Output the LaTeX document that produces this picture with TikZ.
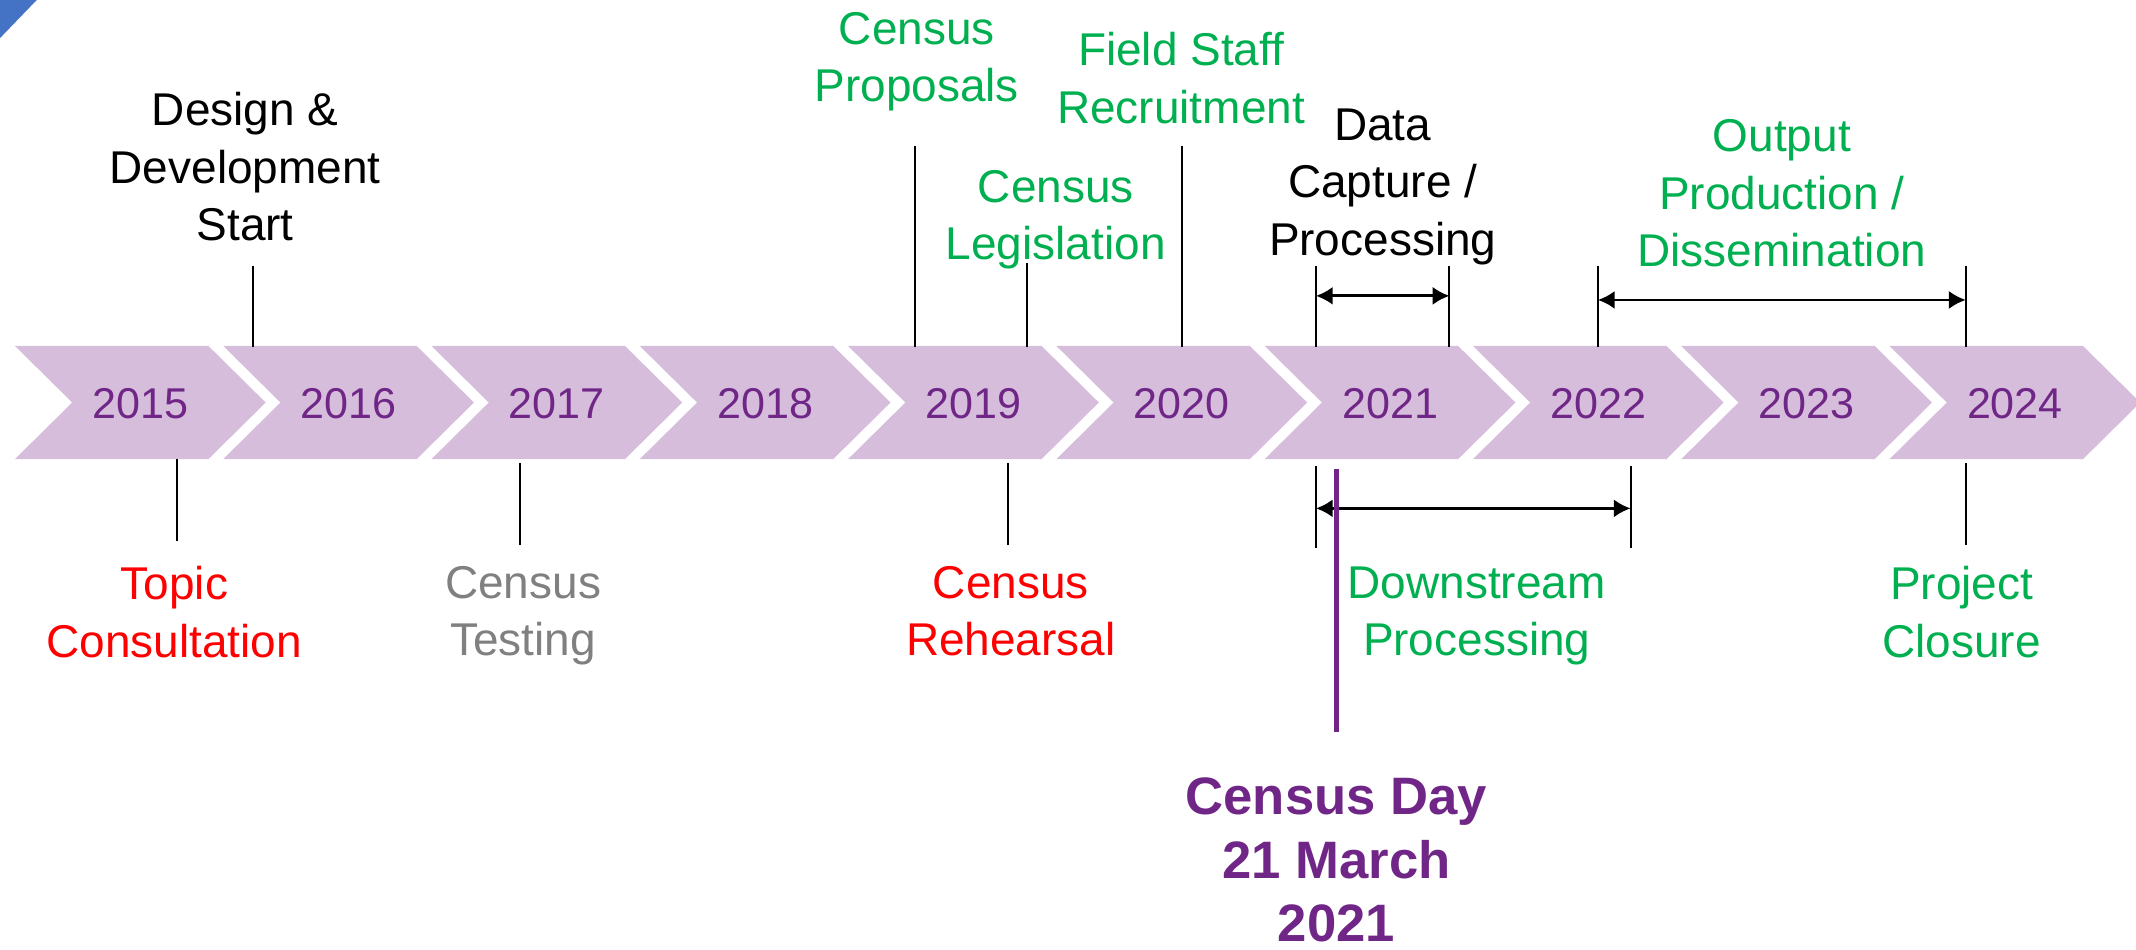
\documentclass[tikz,border=0pt]{standalone}
\usepackage{fontspec}
\setmainfont{Liberation Sans}
\usepackage{tikz}
\usetikzlibrary{arrows.meta,calc}
\definecolor{chevlilac}{RGB}{213,189,219}
\definecolor{censuspurple}{RGB}{112,38,134}
\definecolor{censusgreen}{RGB}{0,176,80}
\definecolor{cornerblue}{RGB}{68,114,196}
\xdef\LWS{0.4pt}
\xdef\LWA{0.6pt}
\xdef\ColorCH{chevlilac}
\xdef\ColorYR{censuspurple}
\xdef\ColorGN{censusgreen}
\xdef\ColorRD{red}
\xdef\ColorGY{gray}

\begin{document}
\begin{tikzpicture}[x=1cm,y=-1cm,inner sep=0,outer sep=0,
  lbl/.style={anchor=north,align=center,font=\fontsize{9.6pt}{11.95pt}\selectfont},
  yearlbl/.style={text=\ColorYR,font=\fontsize{9pt}{11pt}\selectfont,text height=6.45pt,text depth=0pt},
  tick/.style={line width=\LWS},
  span/.style={line width=\LWA,{Latex[length=3.5pt,width=3.8pt]}-{Latex[length=3.5pt,width=3.8pt]}}]
\useasboundingbox (0,0) rectangle (15.68,6.97);
\fill[cornerblue] (0,0)--(0.27,0)--(0,0.28)--cycle;
\foreach \yr [count=\i from 0] in {2015,...,2024}{
  \pgfmathsetmacro\xo{0.11+1.529*\i}
  \fill[\ColorCH] (\xo,2.54)--++(1.42,0)--++(0.42,0.415)--++(-0.42,0.415)--++(-1.42,0)--++(0.42,-0.415)--cycle;
  \node[yearlbl] (y\yr) at (\xo+0.92,2.96) {\yr};
}
\node[lbl] (design) at (1.80,0.68) {Design \&\\Development\\Start};
\node[lbl,text=\ColorGN] (proposals) at (6.73,0.09) {Census\\Proposals};
\node[lbl,text=\ColorGN] (legislation) at (7.75,1.25) {Census\\Legislation};
\node[lbl,text=\ColorGN] (recruit) at (8.67,0.24) {Field Staff\\Recruitment};
\node[lbl] (capture) at (10.15,0.80) {Data\\Capture /\\Processing};
\node[lbl,text=\ColorGN] (output) at (13.08,0.88) {Output\\Production /\\Dissemination};
\node[lbl,text=\ColorRD] (topic) at (1.28,4.16) {Topic\\Consultation};
\node[lbl,text=\ColorGY] (testing) at (3.84,4.16) {Census\\Testing};
\node[lbl,text=\ColorRD] (rehearsal) at (7.42,4.16) {Census\\Rehearsal};
\node[lbl,text=\ColorGN] (downstream) at (10.84,4.16) {Downstream\\Processing};
\node[lbl,text=\ColorGN] (closure) at (14.40,4.16) {Project\\Closure};
\node[lbl,text=\ColorYR,font=\bfseries\fontsize{11pt}{13.3pt}\selectfont] (censusday) at (9.81,5.71) {Census Day\\21 March\\2021};
\coordinate (designT) at (1.86,1.95); \coordinate (designB) at (1.86,2.55);
\coordinate (proposalsT) at (6.72,1.07); \coordinate (proposalsB) at (6.72,2.55);
\coordinate (legislationT) at (7.54,1.93); \coordinate (legislationB) at (7.54,2.55);
\coordinate (recruitT) at (8.68,1.07); \coordinate (recruitB) at (8.68,2.55);
\coordinate (captureLT) at (9.66,1.95); \coordinate (captureLB) at (9.66,2.55);
\coordinate (captureRT) at (10.64,1.95); \coordinate (captureRB) at (10.64,2.55);
\coordinate (outputLT) at (11.73,1.95); \coordinate (outputLB) at (11.73,2.55);
\coordinate (outputRT) at (14.43,1.95); \coordinate (outputRB) at (14.43,2.55);
\coordinate (topicT) at (1.30,3.37); \coordinate (topicB) at (1.30,3.97);
\coordinate (testingT) at (3.82,3.40); \coordinate (testingB) at (3.82,4.00);
\coordinate (rehearsalT) at (7.40,3.40); \coordinate (rehearsalB) at (7.40,4.00);
\coordinate (downLT) at (9.66,3.42); \coordinate (downLB) at (9.66,4.02);
\coordinate (downRT) at (11.97,3.42); \coordinate (downRB) at (11.97,4.02);
\coordinate (closureT) at (14.43,3.40); \coordinate (closureB) at (14.43,4.00);
\coordinate (dayT) at (9.81,3.44); \coordinate (dayB) at (9.81,5.37);
\draw[tick] (designT)--(designB) (proposalsT)--(proposalsB) (legislationT)--(legislationB) (recruitT)--(recruitB);
\draw[tick] (captureLT)--(captureLB) (captureRT)--(captureRB) (outputLT)--(outputLB) (outputRT)--(outputRB);
\draw[tick] (topicT)--(topicB) (testingT)--(testingB) (rehearsalT)--(rehearsalB) (closureT)--(closureB);
\draw[tick] (downLT)--(downLB) (downRT)--(downRB);
\draw[span] ($(captureLT)!0.37!(captureLB)$)--($(captureRT)!0.37!(captureRB)$);
\draw[span] ($(outputLT)!0.42!(outputLB)$)--($(outputRT)!0.42!(outputRB)$);
\draw[span] ($(downLT)!0.52!(downLB)$)--($(downRT)!0.52!(downRB)$);
\draw[line width=1.15pt,\ColorYR] (dayT)--(dayB);
\end{tikzpicture}
\end{document}
